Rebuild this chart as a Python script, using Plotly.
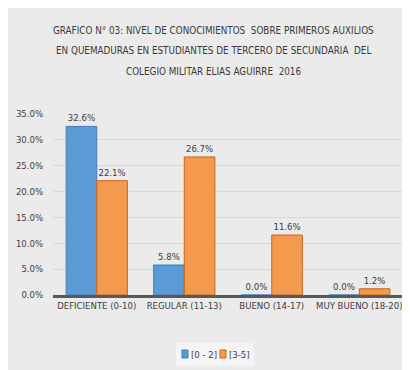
import plotly.graph_objects as go

categories = ["DEFICIENTE (0-10)", "REGULAR (11-13)", "BUENO (14-17)", "MUY BUENO (18-20)"]
series_names = ["[0 - 2]", "[3-5]"]
values_0_2 = [32.6, 5.8, 0.0, 0.0]
values_3_5 = [22.1, 26.7, 11.6, 1.2]
y_ticks = [0, 5, 10, 15, 20, 25, 30, 35]
title_lines = [
    "GRAFICO N° 03: NIVEL DE CONOCIMIENTOS  SOBRE PRIMEROS AUXILIOS",
    "EN QUEMADURAS EN ESTUDIANTES DE TERCERO DE SECUNDARIA  DEL",
    "COLEGIO MILITAR ELIAS AGUIRRE  2016",
]
colors = ["#5b9bd5", "#f39a4f"]
edge_colors = ["#3f7fbf", "#c8641e"]

FONT = "DejaVu Sans Condensed, Roboto, sans-serif"
TXT = "#404040"
W, H, L, R, T, B = 410, 370, 45, 15, 106, 83
PW, PH = W - L - R, H - T - B


def px(x):
    return (x - L) / PW


def py(y):
    return (H - B - y) / PH


fig = go.Figure()
for name, vals, col, line in zip(series_names, [values_0_2, values_3_5], colors, edge_colors):
    fig.add_trace(go.Bar(
        x=categories, y=vals, name=name,
        marker=dict(color=col, line=dict(color=line, width=1)),
        text=[f"{v:.1f}%" for v in vals], textposition="outside",
        constraintext="none",
        textfont=dict(family=FONT, size=9.5, color=TXT),
        cliponaxis=False,
    ))

for i, t in enumerate(title_lines):
    fig.add_annotation(
        text=t, xref="paper", yref="paper", x=px(205), xanchor="center",
        y=py(22 + 20.5 * i), yanchor="middle", showarrow=False,
        font=dict(family=FONT, size=9.8, color="#3a3a3a"),
    )

# legend (custom, compact)
fig.add_shape(type="rect", xref="paper", yref="paper",
              x0=px(168), x1=px(246), y0=py(335), y1=py(358),
              fillcolor="#f4f4f4", line=dict(width=0), layer="below")
for i, (name, col, line) in enumerate(zip(series_names, colors, edge_colors)):
    x0 = 174 + 38 * i
    fig.add_shape(type="rect", xref="paper", yref="paper",
                  x0=px(x0), x1=px(x0 + 6), y0=py(350), y1=py(342),
                  fillcolor=col, line=dict(color=line, width=1))
    fig.add_annotation(text=name, xref="paper", yref="paper", x=px(x0 + 7),
                       xanchor="left", y=py(346), yanchor="middle", showarrow=False,
                       font=dict(family=FONT, size=9.5, color=TXT))

fig.update_layout(
    width=W, height=H,
    margin=dict(l=L, r=R, t=T, b=B, autoexpand=False),
    paper_bgcolor="#ebebeb", plot_bgcolor="rgba(0,0,0,0)",
    barmode="group", bargap=0.3, bargroupgap=0.0,
    showlegend=False,
    xaxis=dict(
        showgrid=False, showline=True, linecolor="#595959", linewidth=3,
        tickfont=dict(family=FONT, size=9.5, color=TXT), ticks="", tickangle=0,
        automargin=False,
    ),
    yaxis=dict(
        range=[0, 35], tickvals=y_ticks, ticktext=[f"{v:.1f}%" for v in y_ticks],
        showgrid=True, gridcolor="#d9d9d9", gridwidth=1, zeroline=False,
        tickfont=dict(family=FONT, size=9.5, color=TXT),
        ticks="outside", ticklen=7, tickcolor="rgba(0,0,0,0)",
        automargin=False,
    ),
)
fig.write_html("out.html")
